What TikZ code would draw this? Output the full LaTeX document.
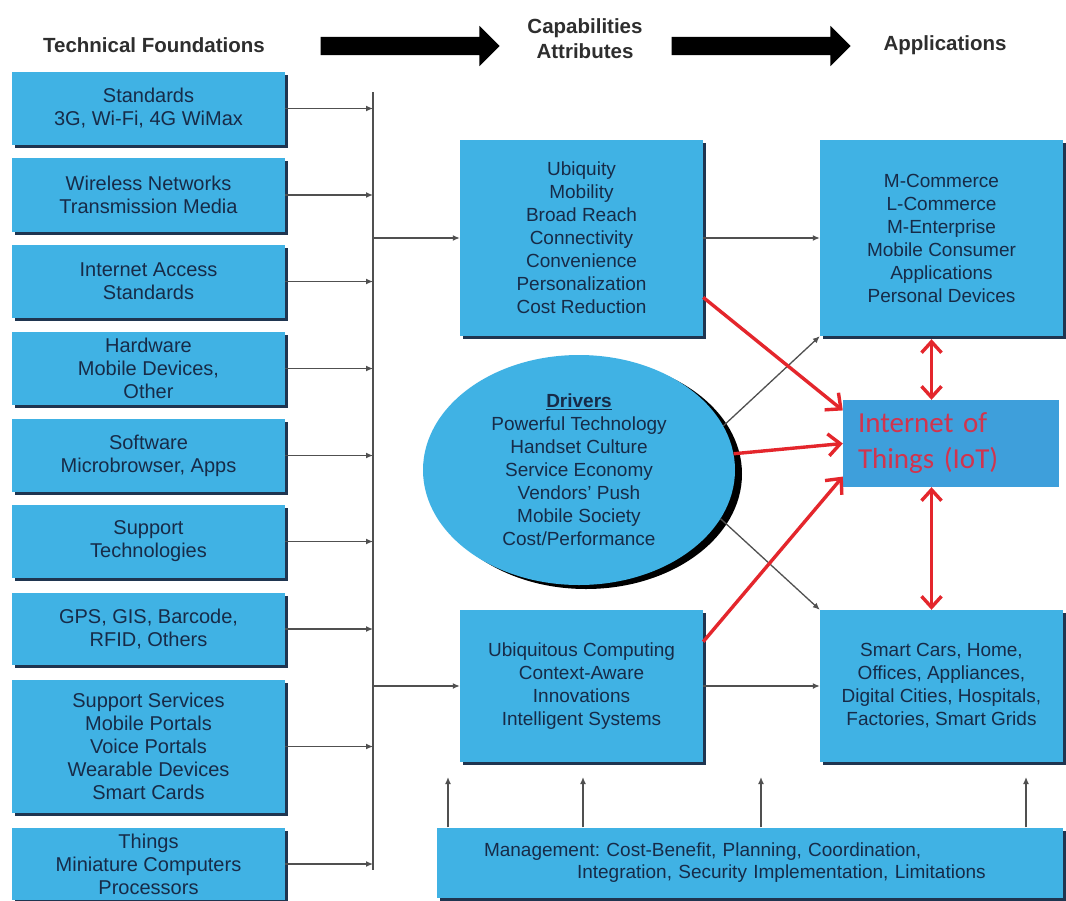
\documentclass[tikz,border=0pt]{standalone}
\usepackage{fontspec}
\setmainfont{Liberation Sans}
\newfontfamily\iotfont{Carlito}
\usetikzlibrary{shapes.geometric,shapes.arrows,arrows.meta,shadows,calc}
\frenchspacing
\definecolor{boxblue}{HTML}{40B2E4}
\definecolor{boxedge}{HTML}{1F3550}
\definecolor{iotblue}{HTML}{3E9FDB}
\definecolor{txtc}{HTML}{172B48}
\definecolor{hdrc}{HTML}{2E2E2E}
\definecolor{glinec}{HTML}{505050}
\definecolor{redc}{HTML}{E4262C}
\definecolor{iottxt}{HTML}{D1344E}
\tikzset{
  box/.style={rectangle, fill=boxblue, text=txtc, align=center, inner sep=1pt,
    drop shadow={shadow xshift=3pt, shadow yshift=-3pt, fill=boxedge, opacity=1}},
  lbox/.style={box, minimum width=273pt, font=\fontsize{20}{23}\selectfont},
  cbox/.style={box, minimum width=243pt, font=\fontsize{19}{23}\selectfont},
  hdr/.style={font=\fontsize{20.5}{25}\selectfont\bfseries, text=hdrc, align=center, inner sep=0pt},
  bigarrow/.style={single arrow, fill=black, draw=none, inner xsep=0pt, inner ysep=9pt,
    single arrow head extend=11pt, minimum height=179pt, anchor=center},
  gline/.style={draw=glinec, line width=1.3pt},
  garrow/.style={gline, -{Latex[length=7pt,width=6pt]}},
  rarrow/.style={draw=redc, line width=3.4pt, -{Straight Barb[length=12pt,width=22pt]}},
  rdouble/.style={draw=redc, line width=3.4pt, {Straight Barb[length=11pt,width=20pt]}-{Straight Barb[length=11pt,width=20pt]}}
}
\begin{document}
\begin{tikzpicture}[x=1pt,y=-1pt]
\useasboundingbox[fill=white] (0,0) rectangle (1066,900);
% headers
\node[hdr] (h1) at (154,45) {Technical Foundations};
\node[hdr] (h2) at (585,39) {Capabilities\\Attributes};
\node[hdr] (h3) at (945,45) {Applications};
\node[bigarrow] (a1) at (405.5,46) {};
\node[bigarrow] (a2) at (756.5,46) {};
% left column
\node[lbox, minimum height=73pt] (t1) at (148.5,108.5) {Standards\\3G, Wi-Fi, 4G WiMax};
\node[lbox, minimum height=74pt] (t2) at (148.5,195) {Wireless Networks\\Transmission Media};
\node[lbox, minimum height=73pt] (t3) at (148.5,281.5) {Internet Access\\Standards};
\node[lbox, minimum height=73pt] (t4) at (148.5,368.5) {Hardware\\Mobile Devices,\\Other};
\node[lbox, minimum height=73pt] (t5) at (148.5,455.5) {Software\\Microbrowser, Apps};
\node[lbox, minimum height=73pt] (t6) at (148.5,541.5) {Support\\Technologies};
\node[lbox, minimum height=72pt] (t7) at (148.5,629) {GPS, GIS, Barcode,\\RFID, Others};
\node[lbox, minimum height=133pt] (t8) at (148.5,746.5) {Support Services\\Mobile Portals\\Voice Portals\\Wearable Devices\\Smart Cards};
\node[lbox, minimum height=72pt] (t9) at (148.5,864) {Things\\Miniature Computers\\Processors};
% bus
\coordinate (bt) at (373,92);
\coordinate (bb) at (373,870);
\draw[gline] (bt) -- (bb);
\foreach \n in {t1,t2,t3,t4,t5,t6,t7,t8,t9}{
  \draw[garrow] (\n.east) -- (\n.east -| bt);
}
% capability boxes
\node[cbox, minimum height=196pt] (cap1) at (581.5,238) {Ubiquity\\Mobility\\Broad Reach\\Connectivity\\Convenience\\Personalization\\Cost Reduction};
\node[cbox, minimum height=152pt] (cap2) at (581.5,686) {Ubiquitous Computing\\Context-Aware\\Innovations\\Intelligent Systems};
% application boxes
\node[cbox, minimum height=196pt] (app1) at (941.5,238) {M-Commerce\\L-Commerce\\M-Enterprise\\Mobile Consumer\\Applications\\Personal Devices};
\node[cbox, minimum height=152pt] (app2) at (941.5,686) {Smart Cars, Home,\\Offices, Appliances,\\Digital Cities, Hospitals,\\Factories, Smart Grids};
% drivers
\node[ellipse, fill=boxblue, text=txtc, align=center, inner sep=0pt,
  minimum width=312pt, minimum height=230pt, font=\fontsize{19}{23}\selectfont,
  drop shadow={shadow xshift=7pt, shadow yshift=-4pt, fill=black, opacity=1}] (drv) at (579,470)
  {\underline{\textbf{Drivers}}\\Powerful Technology\\Handset Culture\\Service Economy\\Vendors’ Push\\Mobile Society\\Cost/Performance};
% IoT
\node[rectangle, fill=iotblue, text=iottxt, minimum width=216pt, minimum height=87pt,
  text width=186pt, inner xsep=15pt, inner ysep=0pt, align=left,
  font=\iotfont\fontsize{29}{36}\selectfont] (iot) at (951,443.5) {Internet of\\Things (IoT)};
% management
\node[box, minimum width=626pt, minimum height=70pt, text width=532pt, inner xsep=47pt, align=left,
  font=\fontsize{19}{22}\selectfont] (mgmt) at (750,862.5)
  {Management: Cost-Benefit, Planning, Coordination,\\\hspace*{93pt}Integration, Security Implementation, Limitations};
% gray connectors
\draw[garrow] (cap1.west -| bt) -- (cap1.west);
\draw[garrow] (cap2.west -| bt) -- (cap2.west);
\draw[garrow] (cap1.east) -- (app1.west);
\draw[garrow] (cap2.east) -- (app2.west);
\draw[garrow] (drv.17) -- (app1.south west);
\draw[garrow] (drv.-19) -- (app2.north west);
\coordinate (u1) at (448,777);
\coordinate (u2) at (583,777);
\coordinate (u3) at (761,777);
\coordinate (u4) at (1026,777);
\foreach \u in {u1,u2,u3,u4}{
  \draw[garrow] (\u |- mgmt.north) -- (\u);
}
% red connectors
\draw[rarrow] (cap1.-26) -- (iot.163);
\draw[rarrow] (drv.6) -- (iot.west);
\draw[rarrow] (cap2.20) -- (iot.197);
\coordinate (d1) at ([xshift=-10pt]app1.south);
\coordinate (d2) at ([xshift=-10pt]app2.north);
\draw[rdouble] ([yshift=-3pt]d1) -- (d1 |- iot.north);
\draw[rdouble] (d2 |- iot.south) -- (d2);
\end{tikzpicture}
\end{document}
